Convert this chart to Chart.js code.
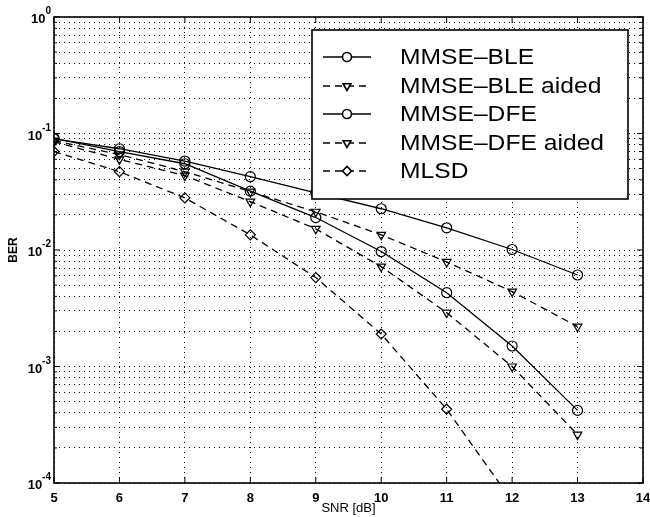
<!DOCTYPE html>
<html>
<head>
<meta charset="utf-8">
<script src="https://cdn.jsdelivr.net/npm/chart.js@4"></script>
<style>
  html, body { margin: 0; padding: 0; background: #fff; }
  #wrap { width: 650px; height: 517px; }
</style>
</head>
<body>
<div id="wrap"><canvas id="berChart"></canvas></div>
<script>
// SNR points (dB)
const snr = [5, 6, 7, 8, 9, 10, 11, 12, 13];

// BER values
const bleBer = [0.090, 0.074, 0.058, 0.0426, 0.031, 0.0226, 0.0155, 0.0101, 0.0061];
const bleAidedBer = [0.087, 0.066, 0.047, 0.0317, 0.0213, 0.0135, 0.0079, 0.0044, 0.0022];
const dfeBer = [0.091, 0.070, 0.055, 0.032, 0.019, 0.0097, 0.0043, 0.0015, 0.00042];
const dfeAidedBer = [0.085, 0.060, 0.0435, 0.026, 0.0152, 0.0072, 0.0029, 0.0010, 0.00026];
const mlsdBer = [0.070, 0.047, 0.028, 0.0135, 0.0058, 0.0019, 0.00043, 0.00007];

const seriesNames = ['MMSE–BLE', 'MMSE–BLE aided', 'MMSE–DFE', 'MMSE–DFE aided', 'MLSD'];
const xTicks = [5, 6, 7, 8, 9, 10, 11, 12, 13, 14];
const yDecades = [1e-4, 1e-3, 1e-2, 1e-1, 1];
const yExponents = ['-4', '-3', '-2', '-1', '0'];

const FONT = "'Liberation Sans', Arial, Helvetica, sans-serif";

function toPoints(values) {
  return values.map((v, i) => ({ x: snr[i], y: v }));
}

// all log grid lines: 1..9 times each decade
const yGridValues = [];
yDecades.forEach((d, i) => {
  if (i === yDecades.length - 1) { yGridValues.push(d); return; }
  for (let m = 1; m < 10; m++) yGridValues.push(m * d);
});

const solid = [];
const dashed = [7, 5];

function makeSet(label, values, style, dash) {
  return {
    label: label,
    data: toPoints(values),
    borderColor: '#000',
    backgroundColor: 'rgba(0,0,0,0)',
    borderWidth: 1.3,
    borderDash: dash,
    pointStyle: style,
    pointRotation: style === 'triangle' ? 180 : 0,
    pointRadius: 5,
    pointBorderWidth: 1.2,
    pointBorderColor: '#000',
    pointBackgroundColor: 'rgba(0,0,0,0)',
    tension: 0
  };
}

const datasets = [
  makeSet(seriesNames[0], bleBer, 'circle', solid),
  makeSet(seriesNames[1], bleAidedBer, 'triangle', dashed),
  makeSet(seriesNames[2], dfeBer, 'circle', solid),
  makeSet(seriesNames[3], dfeAidedBer, 'triangle', dashed),
  makeSet(seriesNames[4], mlsdBer, 'rectRot', dashed)
];

// frame, inward ticks, decade labels and the boxed legend inside the plot
const matlabFrame = {
  id: 'matlabFrame',
  afterDatasetsDraw(chart) {
    const ctx = chart.ctx;
    const a = chart.chartArea;
    const xs = chart.scales.x;
    const ys = chart.scales.y;
    ctx.save();
    ctx.strokeStyle = '#000';
    ctx.setLineDash([]);
    ctx.lineWidth = 1;
    // tick marks
    xTicks.forEach(v => {
      const px = xs.getPixelForValue(v);
      ctx.beginPath();
      ctx.moveTo(px, a.bottom); ctx.lineTo(px, a.bottom - 6);
      ctx.moveTo(px, a.top); ctx.lineTo(px, a.top + 6);
      ctx.stroke();
    });
    yGridValues.forEach(v => {
      const py = ys.getPixelForValue(v);
      const len = yDecades.includes(v) ? 6 : 3;
      ctx.beginPath();
      ctx.moveTo(a.left, py); ctx.lineTo(a.left + len, py);
      ctx.moveTo(a.right, py); ctx.lineTo(a.right - len, py);
      ctx.stroke();
    });
    // box
    ctx.lineWidth = 1.6;
    ctx.strokeRect(a.left, a.top, a.right - a.left, a.bottom - a.top);

    // y decade labels with superscript exponent
    ctx.fillStyle = '#000';
    ctx.textBaseline = 'alphabetic';
    yDecades.forEach((d, i) => {
      const py = ys.getPixelForValue(d);
      const exp = yExponents[i];
      ctx.font = 'bold 10px ' + FONT;
      const ew = ctx.measureText(exp).width;
      ctx.textAlign = 'left';
      const ex = a.left - 3 - ew;
      ctx.fillText(exp, ex, py - 3);
      ctx.font = 'bold 13px ' + FONT;
      ctx.textAlign = 'right';
      ctx.fillText('10', ex, py + 6);
    });

    // legend
    const lx = 312, ly = 30, lw = 316, lh = 169;
    ctx.fillStyle = '#fff';
    ctx.fillRect(lx, ly, lw, lh);
    ctx.lineWidth = 1.6;
    ctx.strokeRect(lx, ly, lw, lh);
    const rowY = [57, 86, 114, 143, 171];
    chart.data.datasets.forEach((ds, i) => {
      const y = rowY[i];
      ctx.save();
      ctx.lineWidth = ds.borderWidth;
      ctx.setLineDash(ds.borderDash);
      ctx.beginPath();
      ctx.moveTo(323, y); ctx.lineTo(371, y);
      ctx.stroke();
      ctx.restore();
      Chart.helpers.drawPoint(ctx, {
        pointStyle: ds.pointStyle,
        rotation: ds.pointRotation,
        radius: 4.5,
        borderWidth: 1.2
      }, 347, y);
      ctx.save();
      ctx.fillStyle = '#000';
      ctx.font = '22px ' + FONT;
      ctx.textAlign = 'left';
      ctx.textBaseline = 'middle';
      ctx.translate(400, y + 1);
      ctx.scale(1.12, 1);
      ctx.fillText(ds.label, 0, 0);
      ctx.restore();
    });
    ctx.restore();
  }
};

const ctx = document.getElementById('berChart').getContext('2d');
new Chart(ctx, {
  type: 'line',
  data: { datasets: datasets },
  options: {
    responsive: true,
    maintainAspectRatio: false,
    animation: false,
    layout: { padding: { top: 17, right: 7, left: 0, bottom: 0 } },
    plugins: {
      legend: { display: false },
      tooltip: { enabled: false }
    },
    scales: {
      x: {
        type: 'linear',
        min: 5,
        max: 14,
        afterBuildTicks: scale => { scale.ticks = xTicks.map(v => ({ value: v })); },
        afterFit: scale => {
          scale.height = 34;
          scale.paddingLeft = 0;
          scale.paddingRight = 0;
        },
        ticks: {
          color: '#000',
          padding: 8,
          font: { family: FONT, size: 13, weight: 'bold' },
          autoSkip: false,
          maxRotation: 0
        },
        grid: { color: '#000', lineWidth: 1, drawTicks: false },
        border: { display: false, dash: [1, 4] },
        title: {
          display: true,
          text: 'SNR [dB]',
          color: '#000',
          font: { family: FONT, size: 13 },
          padding: { top: 0, bottom: 1 }
        }
      },
      y: {
        type: 'logarithmic',
        min: 1e-4,
        max: 1,
        afterBuildTicks: scale => { scale.ticks = yGridValues.map(v => ({ value: v })); },
        afterFit: scale => {
          scale.width = 54;
          scale.paddingTop = 0;
          scale.paddingBottom = 0;
        },
        ticks: {
          display: false,
          autoSkip: false
        },
        grid: { color: '#000', lineWidth: 1, drawTicks: false },
        border: { display: false, dash: [1, 4] },
        title: {
          display: true,
          text: 'BER',
          color: '#000',
          font: { family: FONT, size: 12, weight: 'bold' },
          padding: { top: 6, bottom: 0 }
        }
      }
    }
  },
  plugins: [matlabFrame]
});
</script>
</body>
</html>
